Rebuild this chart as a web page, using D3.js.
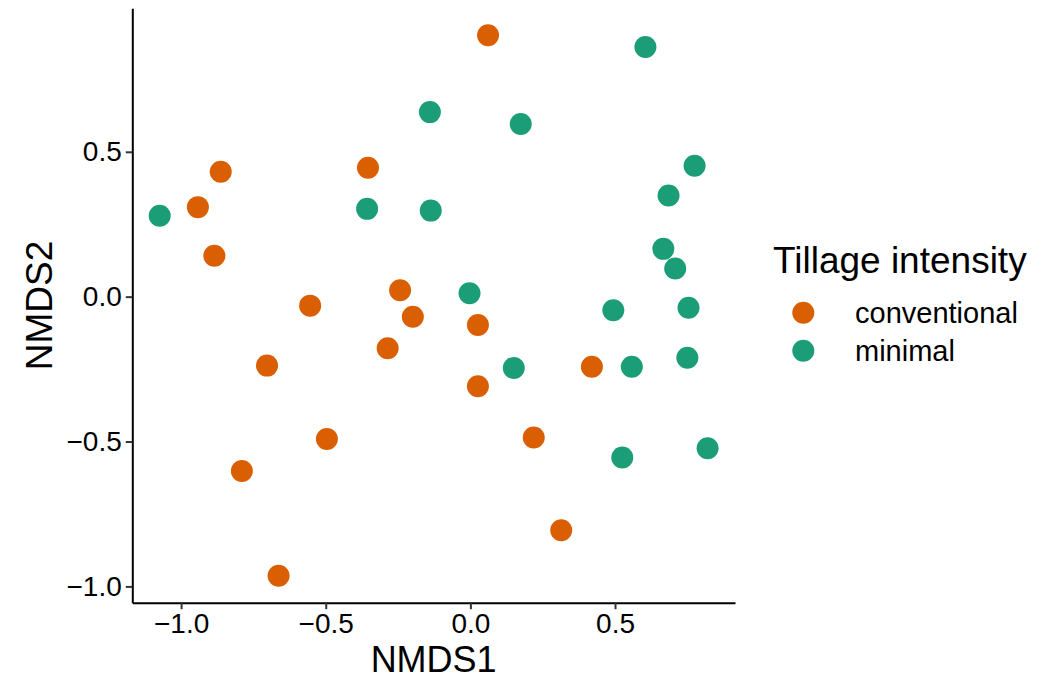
<!DOCTYPE html>
<html>
<head>
<meta charset="utf-8">
<script src="https://cdn.jsdelivr.net/npm/d3@7"></script>
<style>
  body { margin: 0; background: #fff; }
  svg { display: block; font-family: "Liberation Sans", Arial, sans-serif; }
</style>
</head>
<body>
<svg id="chart" width="1058" height="680"></svg>
<script>
// NMDS scores
const convX = [0.061, -0.354, -0.863, -0.942, -0.885, -0.554, -0.243, -0.199, -0.286, 0.026, -0.703, 0.026, 0.420, -0.496, 0.219, -0.790, 0.314, -0.663];
const convY = [0.902, 0.445, 0.431, 0.309, 0.141, -0.031, 0.022, -0.069, -0.178, -0.098, -0.238, -0.309, -0.242, -0.491, -0.486, -0.602, -0.806, -0.963];
const minX = [0.605, -0.140, 0.174, 0.775, 0.685, -1.074, -0.357, -0.137, 0.667, 0.708, -0.003, 0.494, 0.754, 0.150, 0.558, 0.750, 0.525, 0.820];
const minY = [0.862, 0.637, 0.596, 0.452, 0.349, 0.279, 0.303, 0.297, 0.165, 0.097, 0.012, -0.047, -0.038, -0.246, -0.242, -0.211, -0.555, -0.523];
const groups = ['conventional', 'minimal'];
const groupColors = ['#D95F02', '#1B9E77'];
const tickVals = [-1.0, -0.5, 0.0, 0.5];

const points = convX.map((x, i) => ({ x, y: convY[i], g: 'conventional' }))
    .concat(minX.map((x, i) => ({ x, y: minY[i], g: 'minimal' })));

const panel = { left: 132.3, right: 735, top: 8.3, bottom: 602.7 };

// ggplot-style 5% expansion
function expand(ext) {
    const pad = (ext[1] - ext[0]) * 0.05;
    return [ext[0] - pad, ext[1] + pad];
}

const x = d3.scaleLinear()
    .domain(expand(d3.extent(points, d => d.x)))
    .range([panel.left, panel.right]);
const y = d3.scaleLinear()
    .domain(expand(d3.extent(points, d => d.y)))
    .range([panel.bottom, panel.top]);
const color = d3.scaleOrdinal().domain(groups).range(groupColors);

const svg = d3.select('#chart');
const fmt = d3.format('.1f');

// axes
const xAxis = svg.append('g')
    .attr('transform', `translate(0,${panel.bottom})`)
    .call(d3.axisBottom(x).tickValues(tickVals).tickFormat(fmt).tickSizeInner(6.5).tickSizeOuter(0).tickPadding(4));
const yAxis = svg.append('g')
    .attr('transform', `translate(${panel.left},0)`)
    .call(d3.axisLeft(y).tickValues(tickVals).tickFormat(fmt).tickSizeInner(6.5).tickSizeOuter(0).tickPadding(4));

[xAxis, yAxis].forEach(a => {
    a.select('.domain').attr('stroke', '#000').attr('stroke-width', 2);
    a.selectAll('.tick line').attr('stroke', '#333').attr('stroke-width', 2);
    a.selectAll('.tick text')
        .attr('fill', '#000')
        .style('font-size', '28px')
        .style('font-family', '"Liberation Sans", Arial, sans-serif');
});

// points
svg.append('g')
    .selectAll('circle')
    .data(points)
    .join('circle')
    .attr('cx', d => x(d.x))
    .attr('cy', d => y(d.y))
    .attr('r', 11)
    .attr('fill', d => color(d.g));

// axis titles
svg.append('text')
    .attr('x', (panel.left + panel.right) / 2)
    .attr('y', 672)
    .attr('text-anchor', 'middle')
    .style('font-size', '36px')
    .text('NMDS1');
svg.append('text')
    .attr('transform', `translate(52,${(panel.top + panel.bottom) / 2}) rotate(-90)`)
    .attr('text-anchor', 'middle')
    .style('font-size', '37px')
    .text('NMDS2');

// legend
const legend = svg.append('g').attr('transform', 'translate(773,0)');
legend.append('text')
    .attr('x', 0)
    .attr('y', 273)
    .style('font-size', '37px')
    .text('Tillage intensity');
const item = legend.selectAll('.item')
    .data(groups)
    .join('g')
    .attr('class', 'item')
    .attr('transform', (d, i) => `translate(0,${312.7 + i * 38})`);
item.append('circle')
    .attr('cx', 30.3)
    .attr('cy', 0)
    .attr('r', 11)
    .attr('fill', d => color(d));
item.append('text')
    .attr('x', 82)
    .attr('y', 10)
    .style('font-size', '29px')
    .text(d => d);
</script>
</body>
</html>
